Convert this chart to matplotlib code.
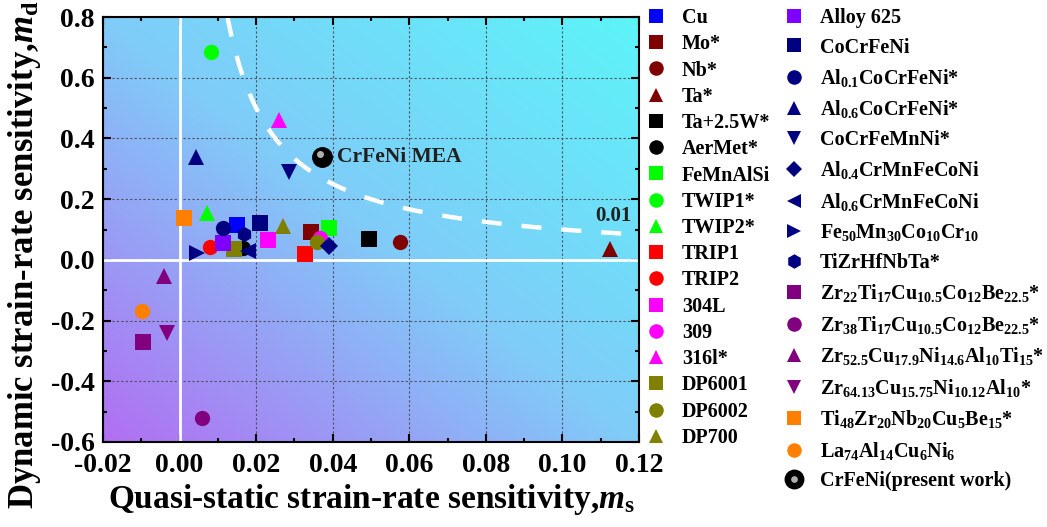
"""Dynamic vs quasi-static strain-rate sensitivity map"""
import matplotlib
matplotlib.use('Agg')
import matplotlib.pyplot as plt
import numpy as np
from matplotlib.legend_handler import HandlerTuple
from matplotlib.ticker import MultipleLocator

plt.rcParams['font.family'] = ['Liberation Serif', 'DejaVu Serif']
plt.rcParams['font.weight'] = 'bold'
plt.rcParams['axes.labelweight'] = 'bold'
plt.rcParams['mathtext.fontset'] = 'custom'
plt.rcParams['mathtext.rm'] = 'Liberation Serif:bold'
plt.rcParams['mathtext.bf'] = 'Liberation Serif:bold'
plt.rcParams['mathtext.it'] = 'Liberation Serif:bold:italic'
plt.rcParams['mathtext.default'] = 'rm'

# material data: label, marker, colour, m_s, m_d
labels = ['Cu', 'Mo*', 'Nb*', 'Ta*', 'Ta+2.5W*', 'AerMet*', 'FeMnAlSi',
          'TWIP1*', 'TWIP2*', 'TRIP1', 'TRIP2', '304L', '309', '316l*',
          'DP6001', 'DP6002', 'DP700',
          'Alloy 625', 'CoCrFeNi', r'Al$_{0.1}$CoCrFeNi*', r'Al$_{0.6}$CoCrFeNi*',
          'CoCrFeMnNi*', r'Al$_{0.4}$CrMnFeCoNi', r'Al$_{0.6}$CrMnFeCoNi',
          r'Fe$_{50}$Mn$_{30}$Co$_{10}$Cr$_{10}$', 'TiZrHfNbTa*',
          r'Zr$_{22}$Ti$_{17}$Cu$_{10.5}$Co$_{12}$Be$_{22.5}$*',
          r'Zr$_{38}$Ti$_{17}$Cu$_{10.5}$Co$_{12}$Be$_{22.5}$*',
          r'Zr$_{52.5}$Cu$_{17.9}$Ni$_{14.6}$Al$_{10}$Ti$_{15}$*',
          r'Zr$_{64.13}$Cu$_{15.75}$Ni$_{10.12}$Al$_{10}$*',
          r'Ti$_{48}$Zr$_{20}$Nb$_{20}$Cu$_{5}$Be$_{15}$*',
          r'La$_{74}$Al$_{14}$Cu$_{6}$Ni$_{6}$']
markers = ['s', 's', 'o', '^', 's', 'o', 's', 'o', '^', 's', 'o', 's', 'o', '^',
           's', 'o', '^',
           's', 's', 'o', '^', 'v', 'D', '<', '>', 'h',
           's', 'o', '^', 'v', 's', 'o']
colors = ['#0000ff', '#800000', '#800000', '#800000', '#000000', '#000000',
          '#00ff00', '#00ff00', '#00ff00', '#ff0000', '#ff0000', '#ff00ff',
          '#ff00ff', '#ff00ff', '#808000', '#808000', '#808000',
          '#8000ff', '#000080', '#000080', '#000080', '#000080', '#000080',
          '#000080', '#000080', '#000080',
          '#800080', '#800080', '#800080', '#800080', '#ff8000', '#ff8000']
m_s = [0.0149, 0.0343, 0.0576, 0.1124, 0.0494, 0.0165, 0.0389, 0.0082, 0.0071,
       0.0327, 0.0079, 0.0230, 0.0367, 0.0260, 0.0142, 0.0358, 0.0271,
       0.0114, 0.0210, 0.0113, 0.0042, 0.0286, 0.0391, 0.0179, 0.0045, 0.0168,
       -0.0096, 0.0059, -0.0040, -0.0034, 0.0012, -0.0099]
m_d = [0.115, 0.091, 0.060, 0.035, 0.068, 0.040, 0.106, 0.684, 0.153,
       0.020, 0.042, 0.066, 0.072, 0.462, 0.037, 0.060, 0.110,
       0.054, 0.122, 0.105, 0.340, 0.290, 0.046, 0.028, 0.022, 0.085,
       -0.272, -0.520, -0.052, -0.240, 0.138, -0.168]
present_ms, present_md = 0.0373, 0.338
curve_const = 0.01

fig = plt.figure(figsize=(10.47, 5.27), dpi=100)
ax = fig.add_axes([0.0984, 0.1613, 0.5119, 0.8064])
xlim, ylim = (-0.02, 0.12), (-0.6, 0.8)

# diagonal background gradient: purple (lower left) -> cyan (upper right)
u, v = np.meshgrid(np.linspace(0, 1, 300), np.linspace(0, 1, 300))
t = (u + v) / 2
c0 = np.array([178, 110, 242]) / 255
c1 = np.array([128, 204, 248]) / 255
c2 = np.array([92, 244, 248]) / 255
w = np.clip(t * 2, 0, 1)[..., None]
w2 = np.clip(t * 2 - 1, 0, 1)[..., None]
img = np.where(t[..., None] < 0.5, c0 + (c1 - c0) * w, c1 + (c2 - c1) * w2)
ax.imshow(img, extent=[*xlim, *ylim], origin='lower', aspect='auto', zorder=0)

ax.grid(True, which='major', linestyle=(0, (2, 2)), color='#505060', linewidth=0.8, zorder=1)
ax.axhline(0, color='white', linewidth=2, zorder=2)
ax.axvline(0, color='white', linewidth=2, zorder=2)

# constant ms*md contour
xc = np.linspace(curve_const / ylim[1], xlim[1], 200)
ax.plot(xc, curve_const / xc, color='white', linewidth=3.2, dashes=(4.5, 4.5), zorder=2)
ax.text(0.1134, 0.145, '0.01', fontsize=15, color='#202020', ha='center', va='center', zorder=3)

handles = []
for lab, mk, col, x, y in zip(labels, markers, colors, m_s, m_d):
    size = 9 if mk == 'D' else 11
    h, = ax.plot(x, y, mk, color=col, markersize=size, markeredgewidth=0, label=lab, zorder=4)
    handles.append(h)

# present work: shaded black sphere
ax.plot(present_ms, present_md, 'o', color='black', markersize=14, zorder=5)
ax.plot(present_ms - 0.0007, present_md + 0.012, 'o', color='#b0b0b0', markersize=4, zorder=6)
sphere = (plt.Line2D([], [], marker='o', color='black', markersize=14, linestyle='none'),
          plt.Line2D([], [], marker='o', color='#b0b0b0', markersize=4, linestyle='none'))
ax.text(present_ms + 0.0037, present_md, 'CrFeNi MEA', fontsize=15.5, color='#202020',
        ha='left', va='center', zorder=6)

ax.set_xlim(*xlim)
ax.set_ylim(*ylim)
ax.xaxis.set_minor_locator(MultipleLocator(0.01))
ax.yaxis.set_minor_locator(MultipleLocator(0.1))
xt = np.round(np.arange(-0.02, 0.121, 0.02), 2)
yt = np.round(np.arange(-0.6, 0.81, 0.2), 1)
ax.set_xticks(xt)
ax.set_xticklabels(['%.2f' % x for x in xt])
ax.set_yticks(yt)
ax.set_yticklabels(['%.1f' % (y + 0.0) for y in yt])
ax.tick_params(which='both', direction='in', top=True, right=True, width=1.5)
ax.tick_params(which='major', length=6, labelsize=20)
ax.tick_params(which='minor', length=3)
ax.tick_params(axis='x', pad=8)
ax.tick_params(axis='y', pad=6)
for sp in ax.spines.values():
    sp.set_linewidth(1.5)

ax.set_xlabel(r'Quasi-static strain-rate sensitivity,$\mathit{m}_{\mathrm{s}}$', fontsize=24)
ax.set_ylabel(r'Dynamic strain-rate sensitivity,$\mathit{m}_{\mathrm{d}}$', fontsize=25)
ax.xaxis.set_label_coords(0.5, -0.095)
ax.yaxis.set_label_coords(-0.112, 0.44)

# legend in two separately spaced columns
hmap = {tuple: HandlerTuple(ndivide=1, pad=0)}
legend_kw = dict(loc='upper left', frameon=False, fontsize=14.5, handlelength=1.0,
                 handletextpad=0.8, borderaxespad=0.0, markerscale=0.95, handler_map=hmap)
fig.legend(handles[:17], labels[:17], bbox_to_anchor=(0.609, 1.0),
           labelspacing=0.31, **legend_kw)
fig.legend(handles[17:] + [sphere], labels[17:] + ['CrFeNi(present work)'],
           bbox_to_anchor=(0.741, 1.0), labelspacing=0.47, **legend_kw)

fig.savefig('out.png', dpi=100)
